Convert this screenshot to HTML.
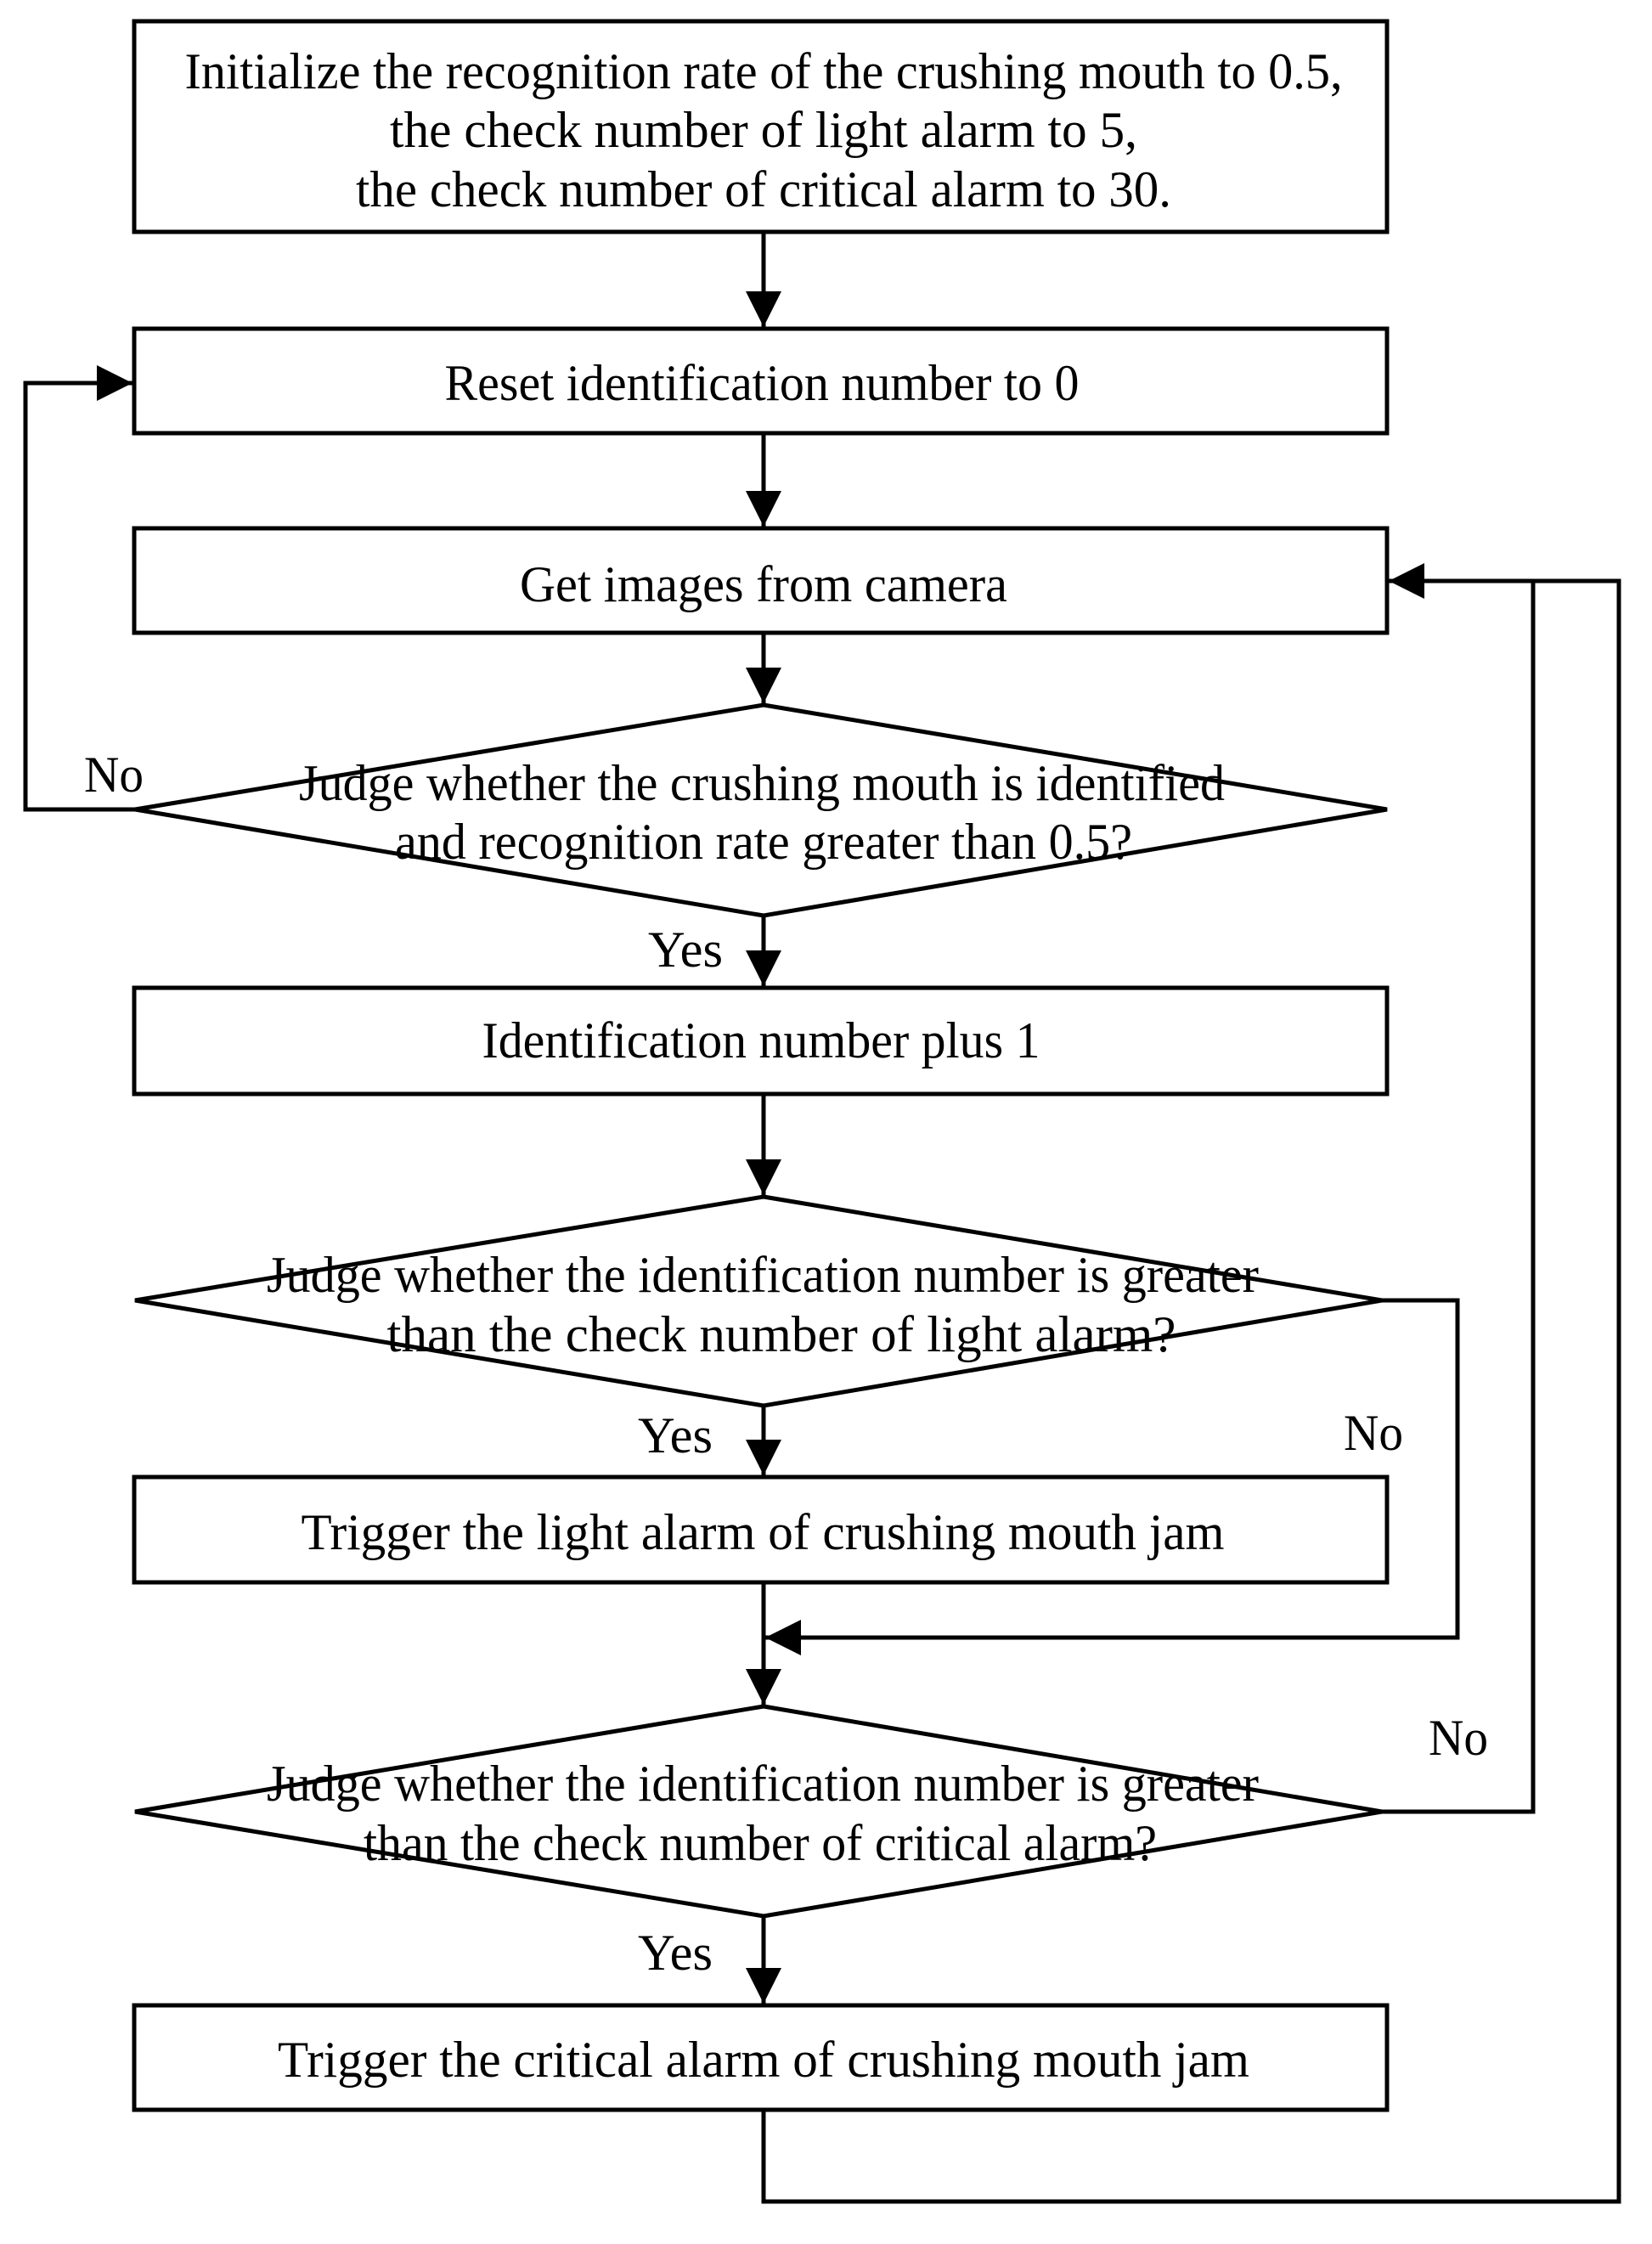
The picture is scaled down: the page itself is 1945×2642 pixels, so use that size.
<!DOCTYPE html>
<html><head><style>html,body{margin:0;padding:0;background:#fff}</style></head>
<body>
<svg width="1945" height="2637" viewBox="0 0 1945 2637" xmlns="http://www.w3.org/2000/svg" font-family="Liberation Serif, serif" font-size="60" fill="none">
<defs>
<marker id="a" viewBox="0 0 10 10" refX="10" refY="5" markerWidth="42" markerHeight="42" markerUnits="userSpaceOnUse" orient="auto">
<path d="M0,0 L10,5 L0,10 z" fill="#000"/>
</marker>
</defs>
<g stroke="#000" stroke-width="5">
<rect x="158" y="25" width="1475" height="248"/>
<rect x="158" y="387" width="1475" height="123"/>
<rect x="158" y="622" width="1475" height="123"/>
<polygon points="899,830 1633,953 899,1078 159,953"/>
<rect x="158" y="1163" width="1475" height="125"/>
<polygon points="899,1409 1627,1531 899,1655 159,1531"/>
<rect x="158" y="1739" width="1475" height="124"/>
<polygon points="899,2009 1627,2133 899,2256 159,2133"/>
<rect x="158" y="2361" width="1475" height="123"/>

<line x1="899" y1="273" x2="899" y2="385" marker-end="url(#a)"/>
<line x1="899" y1="510" x2="899" y2="620" marker-end="url(#a)"/>
<line x1="899" y1="745" x2="899" y2="828" marker-end="url(#a)"/>
<line x1="899" y1="1078" x2="899" y2="1161" marker-end="url(#a)"/>
<line x1="899" y1="1288" x2="899" y2="1407" marker-end="url(#a)"/>
<line x1="899" y1="1655" x2="899" y2="1737" marker-end="url(#a)"/>
<line x1="899" y1="1863" x2="899" y2="2007" marker-end="url(#a)"/>
<line x1="899" y1="2256" x2="899" y2="2359" marker-end="url(#a)"/>

<polyline points="159,953 30,953 30,451 156,451" marker-end="url(#a)"/>
<polyline points="1627,1531 1716,1531 1716,1928 901,1928" marker-end="url(#a)"/>
<polyline points="1627,2133 1805,2133 1805,684 1635,684" marker-end="url(#a)"/>
<polyline points="899,2484 899,2592 1906,2592 1906,684 1805,684"/>
</g>
<g fill="#000" stroke="none" text-anchor="middle">
<text x="899" y="104" textLength="1363" lengthAdjust="spacingAndGlyphs">Initialize the recognition rate of the crushing mouth to 0.5,</text>
<text x="899" y="173" textLength="880" lengthAdjust="spacingAndGlyphs">the check number of light alarm to 5,</text>
<text x="899" y="243" textLength="960" lengthAdjust="spacingAndGlyphs">the check number of critical alarm to 30.</text>
<text x="897" y="471" textLength="747" lengthAdjust="spacingAndGlyphs">Reset identification number to 0</text>
<text x="899" y="708" textLength="574" lengthAdjust="spacingAndGlyphs">Get images from camera</text>
<text x="897" y="942" textLength="1090" lengthAdjust="spacingAndGlyphs">Judge whether the crushing mouth is identified</text>
<text x="899" y="1011" textLength="868" lengthAdjust="spacingAndGlyphs">and recognition rate greater than 0.5?</text>
<text x="896" y="1245" textLength="657" lengthAdjust="spacingAndGlyphs">Identification number plus 1</text>
<text x="898" y="1521" textLength="1168" lengthAdjust="spacingAndGlyphs">Judge whether the identification number is greater</text>
<text x="920" y="1591" textLength="929" lengthAdjust="spacingAndGlyphs">than the check number of light alarm?</text>
<text x="898" y="1824" textLength="1087" lengthAdjust="spacingAndGlyphs">Trigger the light alarm of crushing mouth jam</text>
<text x="898" y="2120" textLength="1168" lengthAdjust="spacingAndGlyphs">Judge whether the identification number is greater</text>
<text x="895" y="2190" textLength="934" lengthAdjust="spacingAndGlyphs">than the check number of critical alarm?</text>
<text x="899" y="2445" textLength="1144" lengthAdjust="spacingAndGlyphs">Trigger the critical alarm of crushing mouth jam</text>
<text x="134" y="932" textLength="70" lengthAdjust="spacingAndGlyphs">No</text>
<text x="807" y="1138" textLength="88" lengthAdjust="spacingAndGlyphs">Yes</text>
<text x="795" y="1710" textLength="88" lengthAdjust="spacingAndGlyphs">Yes</text>
<text x="1617" y="1707" textLength="70" lengthAdjust="spacingAndGlyphs">No</text>
<text x="1717" y="2066" textLength="70" lengthAdjust="spacingAndGlyphs">No</text>
<text x="795" y="2319" textLength="88" lengthAdjust="spacingAndGlyphs">Yes</text>
</g>
</svg>
</body></html>
